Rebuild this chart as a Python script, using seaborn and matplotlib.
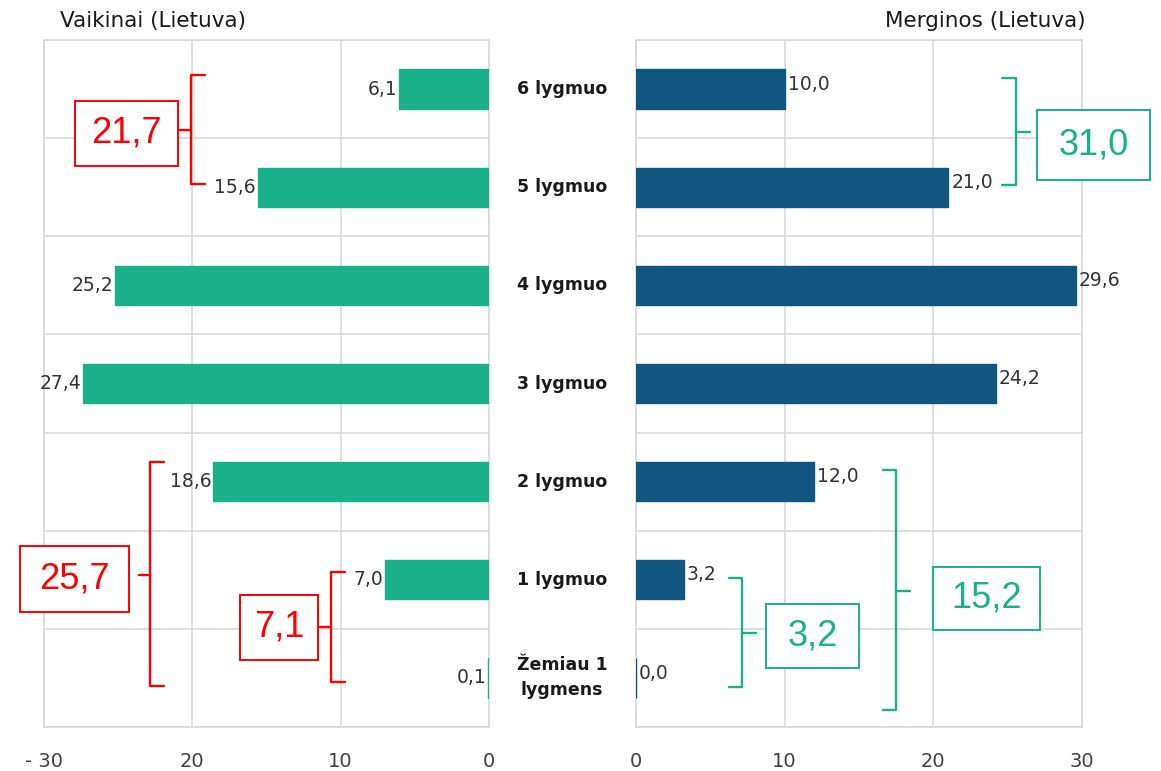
import matplotlib
matplotlib.use('Agg')
import matplotlib.pyplot as plt
from matplotlib.patches import Rectangle
import seaborn as sns
import numpy as np
import pandas as pd

# -- Duomenys --
levels = ["6 lygmuo", "5 lygmuo", "4 lygmuo", "3 lygmuo", "2 lygmuo",
          "1 lygmuo", "Žemiau 1\nlygmens"]
boys = [6.1, 15.6, 25.2, 27.4, 18.6, 7.0, 0.1]
girls = [10.0, 21.0, 29.6, 24.2, 12.0, 3.2, 0.0]
left_ticks = ["- 30", "20", "10", "0"]
right_ticks = ["0", "10", "20", "30"]
boys_title = "Vaikinai (Lietuva)"
girls_title = "Merginos (Lietuva)"

# skliaustai: (tekstas, y virsus, y apacia, x, y vidurys, dezutes x0, x1, y0, y1)
boys_groups = [("21,7", -0.14, 0.97, 20.1, 0.417, 21.0, 27.9, 0.12, 0.78),
               ("25,7", 3.80, 6.08, 22.86, 4.95, 24.3, 31.6, 4.66, 5.33),
               ("7,1", 4.92, 6.04, 10.65, 5.48, 11.5, 16.8, 5.15, 5.82)]
girls_groups = [("31,0", -0.11, 0.98, 25.55, 0.44, 27.0, 34.6, 0.21, 0.93),
                ("3,2", 4.98, 6.09, 7.13, 5.54, 8.74, 15.0, 5.25, 5.90),
                ("15,2", 3.88, 6.33, 17.5, 5.11, 20.0, 27.2, 4.87, 5.51)]

GREEN = "#1AB08A"
BLUE = "#115680"
RED = "#FF0000"
GRID = "#D9D9D9"

df = pd.DataFrame({"level": levels, "boys": boys, "girls": girls})

sns.set_theme(style="white")
plt.rcParams['font.family'] = ['DejaVu Sans']

fig = plt.figure(figsize=(11.61, 7.71), dpi=100)
ax_l = fig.add_axes([44 / 1161, 44 / 771, 445 / 1161, 687 / 771])
ax_r = fig.add_axes([636 / 1161, 44 / 771, 446 / 1161, 687 / 771])

sns.barplot(data=df, x="boys", y="level", color=GREEN, width=0.4,
            saturation=1, edgecolor=GREEN, linewidth=1.0, ax=ax_l)
sns.barplot(data=df, x="girls", y="level", color=BLUE, width=0.4,
            saturation=1, edgecolor=BLUE, linewidth=1.0, ax=ax_r)

for ax, ticks, tvals in ((ax_l, left_ticks, [30, 20, 10, 0]),
                         (ax_r, right_ticks, [0, 10, 20, 30])):
    # stulpeliai virs asiu linijos (kad 0,1 ir 0,0 matytusi)
    for p in ax.patches:
        p.set_zorder(3)
    ax.set_xlim(0, 30)
    ax.set_xticks(tvals)
    ax.set_xticklabels(ticks, fontsize=14, color="#404040")
    ax.set_yticks(np.arange(-0.5, len(levels), 1), minor=True)
    ax.set_ylim(len(levels) - 0.5, -0.5)
    ax.tick_params(axis="both", which="both", length=0)
    ax.tick_params(axis="x", pad=18)
    ax.tick_params(axis="y", labelleft=False)
    ax.grid(True, axis="x", which="major", color=GRID, lw=1.2)
    ax.grid(True, axis="y", which="minor", color=GRID, lw=1.2)
    ax.set_axisbelow(True)
    ax.set_xlabel("")
    ax.set_ylabel("")
    for sp in ax.spines.values():
        sp.set_color(GRID)
        sp.set_linewidth(1.2)
ax_l.invert_xaxis()

# reiksmiu etiketes
for i, v in enumerate(boys):
    ax_l.text(v + 0.1, i, f"{v:.1f}".replace(".", ","), ha="right",
              va="center", fontsize=13.5, color="#333333")
for i, v in enumerate(girls):
    ax_r.text(v + 0.2, i - 0.05, f"{v:.1f}".replace(".", ","), ha="left",
              va="center", fontsize=13.5, color="#333333")

# lygiu pavadinimai per viduri
for i, lab in enumerate(levels):
    ax_r.text(-4.98, i, lab, ha="center", va="center", fontsize=12.5,
              fontweight="bold", color="#1a1a1a", clip_on=False,
              linespacing=1.5)


def bracket(ax, y0, y1, x, ym, hook, tip, color):
    ax.plot([x + hook, x, x, x + hook], [y0, y0, y1, y1], color=color,
            lw=1.7, clip_on=False, solid_joinstyle="round")
    ax.plot([x, x + tip], [ym, ym], color=color, lw=1.7, clip_on=False)


def box(ax, lab, x0, x1, y0, y1, color):
    ax.add_patch(Rectangle((x0, y0), x1 - x0, y1 - y0, fc="white", ec=color,
                           lw=1.4, clip_on=False, zorder=4))
    ax.text((x0 + x1) / 2, (y0 + y1) / 2, lab, ha="center", va="center",
            fontsize=26, color=color, family="Liberation Sans",
            clip_on=False, zorder=5)


for lab, y0, y1, x, ym, bx0, bx1, by0, by1 in boys_groups:
    bracket(ax_l, y0, y1, x, ym, -0.95, 0.75, RED)
    box(ax_l, lab, bx0, bx1, by0, by1, RED)
for lab, y0, y1, x, ym, bx0, bx1, by0, by1 in girls_groups:
    bracket(ax_r, y0, y1, x, ym, -0.9, 0.95, GREEN)
    box(ax_r, lab, bx0, bx1, by0, by1, GREEN)

fig.text(60 / 1161, 1 - 21 / 771, boys_title, ha="left", va="center",
         fontsize=15.5, color="#1a1a1a")
fig.text(1086 / 1161, 1 - 21 / 771, girls_title, ha="right", va="center",
         fontsize=15.5, color="#1a1a1a")

fig.savefig("out.png", dpi=100)
